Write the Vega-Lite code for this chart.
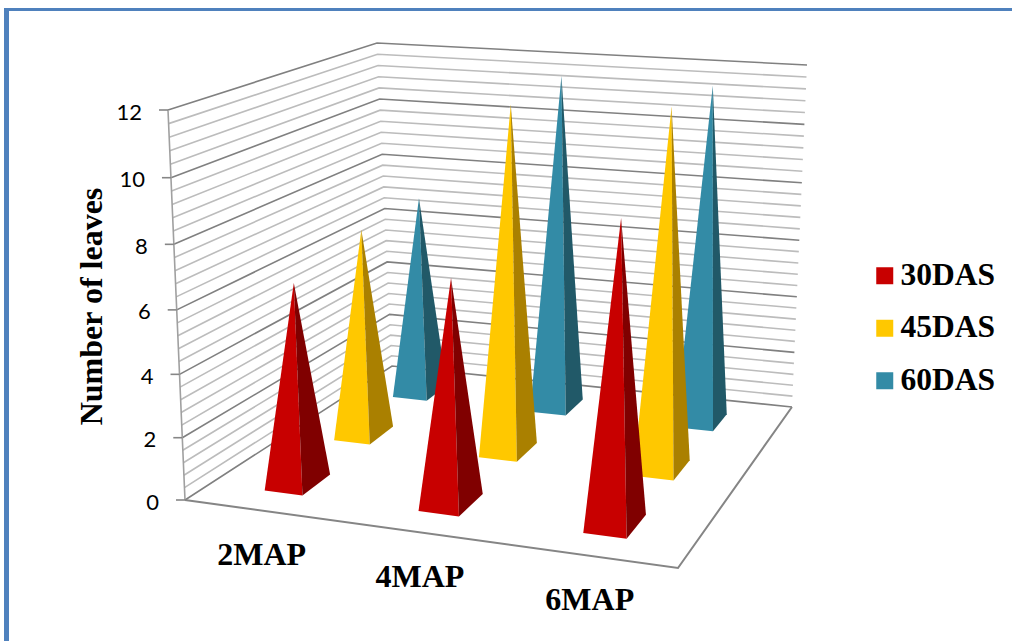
{
  "$schema": "https://vega.github.io/schema/vega-lite/v6.json",
  "width": 1012,
  "height": 641,
  "padding": 0,
  "autosize": {"type": "none"},
  "background": "white",
  "view": {"stroke": null},
  "config": {"axis": {"grid": false}},
  "datasets": {
    "frame": [{"side": "frame"}],
    "levels": [
      {"level": 0, "kind": "major"}, {"level": 0.4, "kind": "minor"}, {"level": 0.8, "kind": "minor"}, {"level": 1.2, "kind": "minor"}, {"level": 1.6, "kind": "minor"},
      {"level": 2, "kind": "major"}, {"level": 2.4, "kind": "minor"}, {"level": 2.8, "kind": "minor"}, {"level": 3.2, "kind": "minor"}, {"level": 3.6, "kind": "minor"},
      {"level": 4, "kind": "major"}, {"level": 4.4, "kind": "minor"}, {"level": 4.8, "kind": "minor"}, {"level": 5.2, "kind": "minor"}, {"level": 5.6, "kind": "minor"},
      {"level": 6, "kind": "major"}, {"level": 6.4, "kind": "minor"}, {"level": 6.8, "kind": "minor"}, {"level": 7.2, "kind": "minor"}, {"level": 7.6, "kind": "minor"},
      {"level": 8, "kind": "major"}, {"level": 8.4, "kind": "minor"}, {"level": 8.8, "kind": "minor"}, {"level": 9.2, "kind": "minor"}, {"level": 9.6, "kind": "minor"},
      {"level": 10, "kind": "major"}, {"level": 10.4, "kind": "minor"}, {"level": 10.8, "kind": "minor"}, {"level": 11.2, "kind": "minor"}, {"level": 11.6, "kind": "minor"},
      {"level": 12, "kind": "major"}
    ],
    "leaves": [
      {"map": "2MAP", "das": "60DAS", "leaves": 7.02},
      {"map": "4MAP", "das": "60DAS", "leaves": 11.56},
      {"map": "6MAP", "das": "60DAS", "leaves": 11.55},
      {"map": "2MAP", "das": "45DAS", "leaves": 6.95},
      {"map": "4MAP", "das": "45DAS", "leaves": 11.43},
      {"map": "6MAP", "das": "45DAS", "leaves": 11.78},
      {"map": "2MAP", "das": "30DAS", "leaves": 6.44},
      {"map": "4MAP", "das": "30DAS", "leaves": 7.15},
      {"map": "6MAP", "das": "30DAS", "leaves": 9.55}
    ],
    "categories": [{"map": "2MAP"}, {"map": "4MAP"}, {"map": "6MAP"}],
    "floorEdge": [{"u": 0, "v": 0, "seq": 0}, {"u": 1, "v": 0, "seq": 1}, {"u": 1, "v": 1, "seq": 2}]
  },
  "layer": [
    {
      "data": {"name": "frame"},
      "mark": {"type": "rule", "color": "#4F81BD", "strokeWidth": 5},
      "encoding": {
        "x": {"datum": 6.5, "type": "quantitative", "scale": {"domain": [0, 1012], "range": [0, 1012]}, "axis": null},
        "y": {"datum": 8, "type": "quantitative", "scale": {"domain": [0, 641], "range": [0, 641]},
          "axis": {"title": "Number of leaves", "domain": false, "ticks": false, "labels": false, "grid": false, "titleFont": "Liberation Serif", "titleFontWeight": "bold", "titleFontSize": 32, "titleColor": "#000000", "titleAngle": -90, "titleAlign": "center", "titleBaseline": "middle", "titleX": 91, "titleY": 306}},
        "y2": {"datum": 641}
      }
    },
    {
      "data": {"name": "frame"},
      "mark": {"type": "rule", "color": "#4F81BD", "strokeWidth": 3},
      "encoding": {
        "y": {"datum": 9.5, "type": "quantitative", "scale": {"domain": [0, 641], "range": [0, 641]}},
        "x": {"datum": 4, "type": "quantitative", "scale": {"domain": [0, 1012], "range": [0, 1012]}, "axis": null},
        "x2": {"datum": 1012}
      }
    },
    {
      "data": {"name": "levels"},
      "transform": [
        {"calculate": "[0,1,2]", "as": "p"},
        {"flatten": ["p"]},
        {"calculate": "(datum.level/12)*(1-0.05*(1-datum.level/12))", "as": "t"},
        {"calculate": "[185,392,792][datum.p]+([168,377,807][datum.p]-[185,392,792][datum.p])*datum.t", "as": "px"},
        {"calculate": "[500,366,407][datum.p]+([110,43,65][datum.p]-[500,366,407][datum.p])*datum.t", "as": "py"}
      ],
      "mark": {"type": "line", "interpolate": "linear"},
      "encoding": {
        "x": {"field": "px", "type": "quantitative", "scale": {"domain": [0, 1012], "range": [0, 1012]}, "axis": null},
        "y": {"field": "py", "type": "quantitative", "scale": {"domain": [0, 641], "range": [0, 641]}},
        "detail": {"field": "level"},
        "order": {"field": "p"},
        "stroke": {"field": "kind", "type": "nominal", "legend": null, "scale": {"domain": ["minor", "major"], "range": ["#bcbcbc", "#808080"]}},
        "strokeWidth": {"value": 1.6}
      }
    },
    {
      "data": {"name": "levels"},
      "transform": [
        {"calculate": "(datum.level/12)*(1-0.05*(1-datum.level/12))", "as": "t"},
        {"calculate": "185+(168-185)*datum.t", "as": "px"},
        {"calculate": "500+(110-500)*datum.t", "as": "py"}
      ],
      "mark": {"type": "line", "color": "#a0a0a0", "strokeWidth": 1.6},
      "encoding": {
        "x": {"field": "px", "type": "quantitative", "scale": {"domain": [0, 1012], "range": [0, 1012]}, "axis": null},
        "y": {"field": "py", "type": "quantitative", "scale": {"domain": [0, 641], "range": [0, 641]}},
        "order": {"field": "level"}
      }
    },
    {
      "data": {"name": "levels"},
      "transform": [
        {"filter": "datum.kind === 'major'"},
        {"calculate": "(datum.level/12)*(1-0.05*(1-datum.level/12))", "as": "t"},
        {"calculate": "185+(168-185)*datum.t", "as": "px"},
        {"calculate": "datum.px-9", "as": "px2"},
        {"calculate": "500+(110-500)*datum.t", "as": "py"}
      ],
      "mark": {"type": "rule", "color": "#868686", "strokeWidth": 1.6},
      "encoding": {
        "x": {"field": "px", "type": "quantitative", "scale": {"domain": [0, 1012], "range": [0, 1012]}, "axis": null},
        "x2": {"field": "px2"},
        "y": {"field": "py", "type": "quantitative", "scale": {"domain": [0, 641], "range": [0, 641]}}
      }
    },
    {
      "data": {"name": "levels"},
      "transform": [
        {"filter": "datum.kind === 'major'"},
        {"calculate": "(datum.level/12)*(1-0.05*(1-datum.level/12))", "as": "t"},
        {"calculate": "185+(168-185)*datum.t-26", "as": "px"},
        {"calculate": "500+(110-500)*datum.t+2.5", "as": "py"}
      ],
      "mark": {"type": "text", "align": "right", "baseline": "middle", "font": "Lato", "fontSize": 22, "color": "#000000"},
      "encoding": {
        "x": {"field": "px", "type": "quantitative", "scale": {"domain": [0, 1012], "range": [0, 1012]}, "axis": null},
        "y": {"field": "py", "type": "quantitative", "scale": {"domain": [0, 641], "range": [0, 641]}},
        "text": {"field": "level", "type": "quantitative"}
      }
    },
    {
      "data": {"name": "floorEdge"},
      "transform": [
        {"calculate": "1-0.10115*datum.u+0.26133*datum.v", "as": "w"},
        {"calculate": "(424.4*datum.u+309.4*datum.v+185)/datum.w", "as": "px"},
        {"calculate": "(10.55*datum.u-38.35*datum.v+500)/datum.w", "as": "py"}
      ],
      "mark": {"type": "line", "color": "#858585", "strokeWidth": 2},
      "encoding": {
        "x": {"field": "px", "type": "quantitative", "scale": {"domain": [0, 1012], "range": [0, 1012]}, "axis": null},
        "y": {"field": "py", "type": "quantitative", "scale": {"domain": [0, 641], "range": [0, 641]}},
        "order": {"field": "seq"}
      }
    },
    {
      "data": {"name": "leaves"},
      "transform": [
        {"calculate": "(indexof(['2MAP','4MAP','6MAP'],datum.map)*2+1)/6", "as": "u"},
        {"calculate": "(indexof(['30DAS','45DAS','60DAS'],datum.das)*2+1)/6", "as": "v"},
        {"calculate": "['front','side']", "as": "face"},
        {"flatten": ["face"]},
        {"calculate": "[0,1,2]", "as": "vertex"},
        {"flatten": ["vertex"]},
        {"calculate": "datum.face==='front' ? [-1,1,0][datum.vertex] : [1,1,0][datum.vertex]", "as": "du"},
        {"calculate": "datum.face==='front' ? [-1,-1,0][datum.vertex] : [-1,1,0][datum.vertex]", "as": "dv"},
        {"calculate": "datum.u+datum.du*0.042", "as": "uu"},
        {"calculate": "datum.v+datum.dv*0.065", "as": "vv"},
        {"calculate": "1-0.10115*datum.uu+0.26133*datum.vv", "as": "w"},
        {"calculate": "(424.4*datum.uu+309.4*datum.vv+185)/datum.w-11*(1-datum.uu)*datum.vv", "as": "fx"},
        {"calculate": "(10.55*datum.uu-38.35*datum.vv+500)/datum.w", "as": "fy"},
        {"calculate": "datum.leaves/12", "as": "t"},
        {"calculate": "datum.vertex===2 ? (32.5+0.8*datum.u-5.6*datum.v+0.8*datum.u*datum.v)*12*datum.t*(1-0.05*(1-datum.t)) : 0", "as": "lift"},
        {"calculate": "datum.fx+(0.06*(datum.u-0.5)+0.022*(datum.v-0.167))*datum.lift", "as": "px"},
        {"calculate": "datum.fy-datum.lift", "as": "py"},
        {"calculate": "datum.face==='front' ? datum.das : datum.das+' side'", "as": "shade"},
        {"calculate": "datum.map+datum.das+datum.face", "as": "key"}
      ],
      "mark": {"type": "line", "strokeOpacity": 0, "interpolate": "linear"},
      "encoding": {
        "x": {"field": "px", "type": "quantitative", "scale": {"domain": [0, 1012], "range": [0, 1012]}, "axis": null},
        "y": {"field": "py", "type": "quantitative", "scale": {"domain": [0, 641], "range": [0, 641]}},
        "detail": {"field": "key"},
        "order": {"field": "vertex"},
        "fill": {
          "field": "shade",
          "type": "nominal",
          "scale": {
            "domain": ["30DAS", "45DAS", "60DAS", "30DAS side", "45DAS side", "60DAS side"],
            "range": ["#C80000", "#FFC800", "#338BA6", "#800000", "#AA8000", "#215968"]
          },
          "legend": {
            "values": ["30DAS", "45DAS", "60DAS"],
            "title": null,
            "orient": "none",
            "legendX": 869,
            "legendY": 260,
            "symbolType": "square",
            "symbolSize": 289,
            "symbolStrokeWidth": 0,
            "symbolOpacity": 1,
            "labelFont": "Liberation Serif",
            "labelFontWeight": "bold",
            "labelFontSize": 31.5,
            "labelColor": "#000000",
            "labelOffset": 0,
            "rowPadding": 19.5,
            "labelLimit": 200
          }
        }
      }
    },
    {
      "data": {"name": "categories"},
      "transform": [
        {"calculate": "(indexof(['2MAP','4MAP','6MAP'],datum.map)*2+1)/6", "as": "u"},
        {"calculate": "1-0.10115*datum.u", "as": "w"},
        {"calculate": "(424.4*datum.u+185)/datum.w+1.5", "as": "px"},
        {"calculate": "(10.55*datum.u+500)/datum.w+44.5", "as": "py"}
      ],
      "mark": {"type": "text", "align": "center", "baseline": "middle", "font": "Liberation Serif", "fontWeight": "bold", "fontSize": 32, "color": "#000000"},
      "encoding": {
        "x": {"field": "px", "type": "quantitative", "scale": {"domain": [0, 1012], "range": [0, 1012]}, "axis": null},
        "y": {"field": "py", "type": "quantitative", "scale": {"domain": [0, 641], "range": [0, 641]}},
        "text": {"field": "map", "type": "nominal"}
      }
    }
  ]
}
